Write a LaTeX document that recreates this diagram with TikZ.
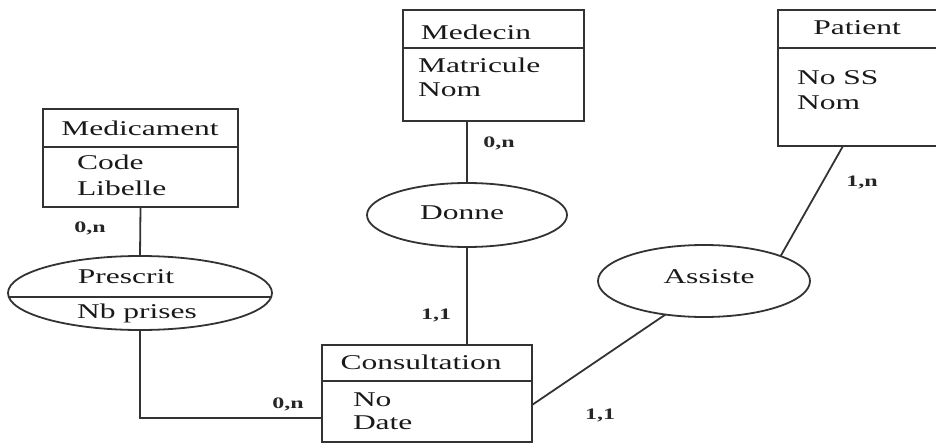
\documentclass[tikz,border=0pt]{standalone}
\usepackage{fontspec}
\newfontfamily\erfont[FakeStretch=1.5]{Liberation Serif}
\usetikzlibrary{shapes.geometric}
\begin{document}
\begin{tikzpicture}[x=1pt,y=-1pt,
  every node/.style={inner sep=0pt, outer sep=0pt},
  stroke/.style={line width=1.8pt, black!80},
  entity/.style={stroke, draw, rectangle, fill=none},
  relation/.style={stroke, draw, ellipse, fill=none},
  label/.style={font=\erfont\fontsize{21}{24}\selectfont, text=black!90},
  attr/.style={label, anchor=west},
  card/.style={font=\erfont\bfseries\fontsize{16}{18}\selectfont, text=black!85}
]
\useasboundingbox (0,0) rectangle (936,444);
\clip (0,0) rectangle (936,444);

% ---- entities (frames) ----
\node[entity, minimum width=195pt, minimum height=98pt]  (medic)   at (140.5,158) {};
\node[entity, minimum width=181pt, minimum height=111pt] (medecin) at (493.5,65.5) {};
\node[entity, minimum width=167pt, minimum height=136pt] (patient) at (861.5,78) {};
\node[entity, minimum width=210pt, minimum height=97pt]  (consult) at (427,393.5) {};

% header separators
\draw[stroke] ([yshift=-38pt]medic.north west)   -- ([yshift=-38pt]medic.north east);
\draw[stroke] ([yshift=-38pt]medecin.north west) -- ([yshift=-38pt]medecin.north east);
\draw[stroke] ([yshift=-38pt]patient.north west) -- ([yshift=-38pt]patient.north east);
\draw[stroke] ([yshift=-36pt]consult.north west) -- ([yshift=-36pt]consult.north east);

% entity titles and attributes
\node[label] (tmedic) at (140,128) {Medicament};
\node[attr]  (amedic1) at (77,162) {Code};
\node[attr]  (amedic2) at (77,188) {Libelle};

\node[label] (tmedecin) at (476,32) {Medecin};
\node[attr]  (amedecin1) at (418,65) {Matricule};
\node[attr]  (amedecin2) at (418,90) {Nom};

\node[label] (tpatient) at (857,28) {Patient};
\node[attr]  (apatient1) at (797,78) {No SS};
\node[attr]  (apatient2) at (797,103) {Nom};

\node[label] (tconsult) at (421,362) {Consultation};
\node[attr]  (aconsult1) at (353,400) {No};
\node[attr]  (aconsult2) at (353,423) {Date};

% ---- relations ----
\node[relation, minimum width=264pt, minimum height=74pt] (prescrit) at (140,293) {};
\draw[stroke] ([yshift=-4pt]prescrit.west) -- ([yshift=-4pt]prescrit.east);
\node[label] (tprescrit) at (126,277) {Prescrit};
\node[label] (aprescrit) at (137,313) {Nb prises};

\node[relation, minimum width=200pt, minimum height=64pt] (donne) at (467,215) {};
\node[label] (tdonne) at (462,213) {Donne};

\node[relation, minimum width=212pt, minimum height=72pt] (assiste) at (704,281) {};
\node[label] (tassiste) at (709,277) {Assiste};

% ---- connectors ----
\draw[stroke] (medic.south) -- (prescrit.north);
\draw[stroke] (prescrit.south) |- ([yshift=-24.5pt]consult.west);
\draw[stroke] (donne.north) -- (donne.north |- medecin.south);
\draw[stroke] (donne.south) -- (donne.south |- consult.north);
\draw[stroke] ([xshift=-18.5pt]patient.south) -- (assiste.18);
\draw[stroke] (assiste.221) -- ([yshift=-11.5pt]consult.east);

% ---- cardinalities ----
\node[card] (c1) at (90,228)  {0,n};
\node[card] (c2) at (288,404) {0,n};
\node[card] (c3) at (499,143) {0,n};
\node[card] (c4) at (436,315) {1,1};
\node[card] (c5) at (600,415) {1,1};
\node[card] (c6) at (862,182) {1,n};
\end{tikzpicture}
\end{document}
